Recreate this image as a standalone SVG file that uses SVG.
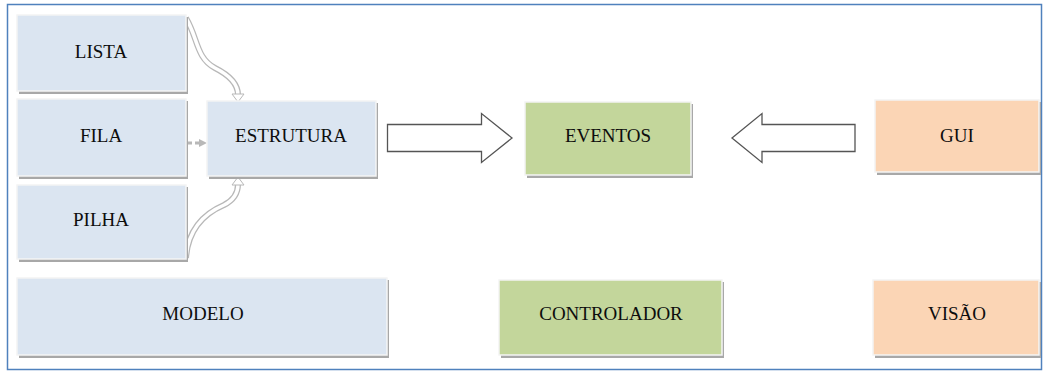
<svg xmlns="http://www.w3.org/2000/svg" width="1046" height="371" viewBox="0 0 1046 371">
<style>
.box{stroke:#f4f4f4;stroke-width:1.5}
.sh{fill:#a8a8a8}
.blue{fill:#dbe5f1}
.green{fill:#c3d69b}
.orange{fill:#fbd5b5}
.t{font-family:"Liberation Serif","Times New Roman",serif;font-size:19px;fill:#0d0d0d;text-anchor:middle;dominant-baseline:central}
.big{fill:#fff;stroke:#555;stroke-width:1.3}
.cv1{fill:none;stroke:#b8b8b8;stroke-width:6}
.cv2{fill:none;stroke:#fff;stroke-width:3.5}
</style>
<rect x="0" y="0" width="1046" height="371" fill="#fff"/>
<rect x="7.5" y="4.5" width="1034" height="365" fill="none" stroke="#4f81bd" stroke-width="1.5"/>
<g id="connectors">
<path class="cv1" d="M186,18 C198,38 196,58 215,68 C233,77 238,86 238,95"/>
<path class="cv2" d="M186,18 C198,38 196,58 215,68 C233,77 238,86 238,95"/>
<polygon points="232,94 244,94 238,102" fill="#fff" stroke="#b8b8b8" stroke-width="1"/>
<path class="cv1" d="M186,258 C188,230 203,214 224,205 C236,199 238,190 238,184"/>
<path class="cv2" d="M186,258 C188,230 203,214 224,205 C236,199 238,190 238,184"/>
<polygon points="232,185 244,185 238,177" fill="#fff" stroke="#b8b8b8" stroke-width="1"/>
<path d="M186,143 L200,143" fill="none" stroke="#b8b8b8" stroke-width="3" stroke-dasharray="6,3"/>
<polygon points="199,139 207,143 199,147" fill="#b8b8b8"/>
<polygon class="big" points="387.5,124.5 481.5,124.5 481.5,113.5 512,138 481.5,162.5 481.5,151.5 387.5,151.5"/>
<polygon class="big" points="855,124.5 762,124.5 762,113.5 732,138 762,162.5 762,151.5 855,151.5"/>
</g>
<g id="lista"><rect class="sh" x="19" y="17" width="169" height="77"/><rect class="box blue" x="17" y="15" width="169" height="76"/><text class="t" x="101" y="51">LISTA</text></g>
<g id="fila"><rect class="sh" x="19" y="101" width="169" height="78"/><rect class="box blue" x="17" y="99" width="169" height="77"/><text class="t" x="101" y="135">FILA</text></g>
<g id="pilha"><rect class="sh" x="19" y="187" width="169" height="75"/><rect class="box blue" x="17" y="185" width="169" height="74"/><text class="t" x="101" y="219">PILHA</text></g>
<g id="estrutura"><rect class="sh" x="209" y="103" width="169" height="76"/><rect class="box blue" x="207" y="101" width="169" height="75"/><text class="t" x="291" y="135">ESTRUTURA</text></g>
<g id="eventos"><rect class="sh" x="527" y="104" width="166" height="74"/><rect class="box green" x="525" y="102" width="166" height="73"/><text class="t" x="608" y="135">EVENTOS</text></g>
<g id="gui"><rect class="sh" x="877" y="102" width="164" height="73"/><rect class="box orange" x="875" y="100" width="164" height="72"/><text class="t" x="957" y="135">GUI</text></g>
<g id="modelo"><rect class="sh" x="19" y="280" width="370" height="78"/><rect class="box blue" x="17" y="278" width="370" height="77"/><text class="t" x="203" y="313">MODELO</text></g>
<g id="controlador"><rect class="sh" x="501" y="282" width="223" height="76"/><rect class="box green" x="499" y="280" width="223" height="75"/><text class="t" x="611" y="313">CONTROLADOR</text></g>
<g id="visao"><rect class="sh" x="875" y="282" width="166" height="76"/><rect class="box orange" x="873" y="280" width="166" height="75"/><text class="t" x="957" y="313">VISÃO</text></g>
</svg>
